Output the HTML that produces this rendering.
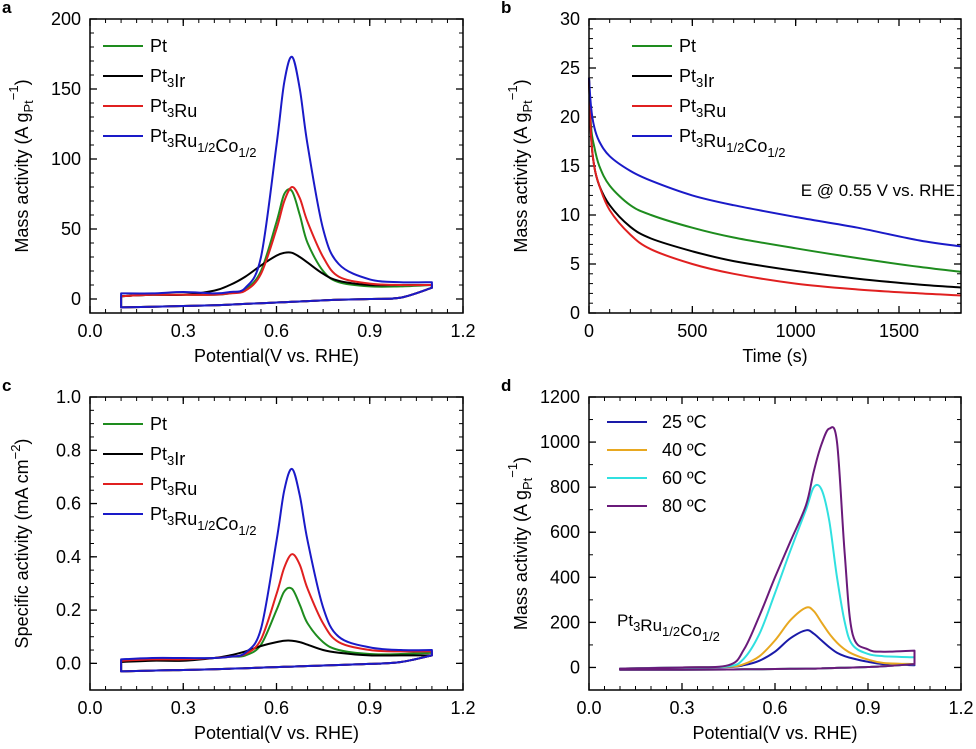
<!DOCTYPE html>
<html><head><meta charset="utf-8"><style>
body{margin:0;background:#fff;width:976px;height:744px;overflow:hidden}
svg{font-family:"Liberation Sans",sans-serif}
</style></head><body>
<svg id="fig" width="976" height="744" xmlns="http://www.w3.org/2000/svg"></svg>
<script>
// Panel a data
const cvPot = [0.1,0.2,0.3,0.4,0.45,0.5,0.55,0.6,0.625,0.65,0.675,0.7,0.75,0.8,0.9,1.0,1.1];
const aPt   = [2,3,3,3,4,7,20,55,75,77,60,40,20,12,9,9,10];
const aIr   = [2,3,3,6,10,16,24,31,33,33,30,26,18,13,10,10,10];
const aRu   = [2,3,3,3,4,6,18,50,70,80,72,55,30,16,11,10,10];
const aCo   = [4,4,5,4,5,8,30,110,155,173,150,110,50,25,14,12,12];
const aLow  = [-6,-5.5,-5,-4.5,-4,-3.5,-3,-2.5,-2.3,-2,-1.8,-1.5,-1,-0.5,0,1,8];
// Panel c data
const cPt   = [0.01,0.015,0.015,0.02,0.025,0.03,0.07,0.2,0.27,0.28,0.22,0.15,0.08,0.05,0.035,0.035,0.04];
const cIr   = [0.005,0.01,0.01,0.02,0.03,0.045,0.065,0.08,0.085,0.085,0.08,0.07,0.05,0.04,0.03,0.03,0.03];
const cRu   = [0.01,0.015,0.015,0.02,0.025,0.035,0.09,0.26,0.36,0.41,0.37,0.28,0.15,0.08,0.05,0.045,0.045];
const cCo   = [0.015,0.02,0.02,0.02,0.025,0.04,0.13,0.46,0.65,0.73,0.63,0.46,0.21,0.1,0.06,0.05,0.05];
const cLow  = [-0.03,-0.027,-0.025,-0.022,-0.02,-0.018,-0.016,-0.014,-0.013,-0.012,-0.011,-0.01,-0.008,-0.006,-0.002,0.005,0.03];
// Panel b data
const bTime = [0,10,25,50,100,200,300,500,700,1000,1300,1600,1800];
const bPt   = [24,19,17,15,13,11,10,8.7,7.7,6.6,5.6,4.7,4.2];
const bIr   = [24,18,15,13,11,8.8,7.6,6.3,5.3,4.3,3.5,2.9,2.6];
const bRu   = [24,18,15,13,10.5,8,6.5,5,4,3,2.4,2,1.8];
const bCo   = [24,21,19,17.5,16,14.5,13.5,12,11,9.8,8.7,7.4,6.8];
// Panel d data
const dPot  = [0.1,0.3,0.45,0.5,0.55,0.6,0.65,0.7,0.725,0.75,0.775,0.8,0.825,0.85,0.9,0.95,1.05];
const d25   = [-5,0,2,10,30,70,130,165,150,120,90,65,50,40,25,15,10];
const d40   = [-5,0,3,15,50,120,210,265,250,200,150,110,80,60,35,20,15];
const d60   = [-5,0,5,40,150,330,520,700,800,790,650,400,200,100,60,50,45];
const d80   = [-5,0,10,80,230,400,560,720,870,990,1060,1000,500,150,80,70,75];
const dLow  = [-10,-10,-9,-8,-8,-7,-6,-5,-5,-4,-3,-2,-1,0,2,5,15];
const potTicks = [0.0,0.3,0.6,0.9,1.2];

const NS="http://www.w3.org/2000/svg";
const svg=document.getElementById('fig');
function mk(tag,attrs,parent){const e=document.createElementNS(NS,tag);for(const k in attrs)e.setAttribute(k,attrs[k]);(parent||svg).appendChild(e);return e;}
function smooth(pts,start){
  let d=(start?'M':'L')+pts[0][0].toFixed(1)+','+pts[0][1].toFixed(1);
  for(let i=0;i<pts.length-1;i++){
    const p0=pts[Math.max(0,i-1)],p1=pts[i],p2=pts[i+1],p3=pts[Math.min(pts.length-1,i+2)];
    const c1=[p1[0]+(p2[0]-p0[0])/6,p1[1]+(p2[1]-p0[1])/6];
    const c2=[p2[0]-(p3[0]-p1[0])/6,p2[1]-(p3[1]-p1[1])/6];
    d+=`C${c1[0].toFixed(1)},${c1[1].toFixed(1)} ${c2[0].toFixed(1)},${c2[1].toFixed(1)} ${p2[0].toFixed(1)},${p2[1].toFixed(1)}`;
  }
  return d;
}

function panel(o){
  const g=mk('g',{});
  
  
  const sx=v=>o.x0+(v-o.xmin)/(o.xmax-o.xmin)*(o.x1-o.x0);
  const sy=v=>o.y1-(v-o.ymin)/(o.ymax-o.ymin)*(o.y1-o.y0);
  o.xt.forEach(v=>{
    const x=sx(v);
    mk('line',{x1:x,x2:x,y1:o.y1,y2:o.y1-7,stroke:'#000','stroke-width':1.3},g);
    mk('line',{x1:x,x2:x,y1:o.y0,y2:o.y0+7,stroke:'#000','stroke-width':1.3},g);
    const t=mk('text',{x:x,y:o.y1+24,'font-size':18,'text-anchor':'middle'},g);t.textContent=o.xf(v);
    
  });
  for(let v=o.xmin;v<=o.xmax+1e-9;v+=o.xminor){const x=sx(v);
    mk('line',{x1:x,x2:x,y1:o.y1,y2:o.y1-4,stroke:'#000','stroke-width':1},g);
    mk('line',{x1:x,x2:x,y1:o.y0,y2:o.y0+4,stroke:'#000','stroke-width':1},g);}
  o.yt.forEach(v=>{
    const y=sy(v);
    mk('line',{x1:o.x0,x2:o.x0+7,y1:y,y2:y,stroke:'#000','stroke-width':1.3},g);
    mk('line',{x1:o.x1,x2:o.x1-7,y1:y,y2:y,stroke:'#000','stroke-width':1.3},g);
    const t=mk('text',{x:o.x0-9,y:y+6,'font-size':18,'text-anchor':'end'},g);t.textContent=o.yf(v);
    
  });
  for(let v=o.yt[0];v<=o.ymax+1e-9;v+=o.yminor){const y=sy(v);if(y>o.y1)continue;
    mk('line',{x1:o.x0,x2:o.x0+4,y1:y,y2:y,stroke:'#000','stroke-width':1},g);
    mk('line',{x1:o.x1,x2:o.x1-4,y1:y,y2:y,stroke:'#000','stroke-width':1},g);}
  o.series.forEach(s=>{
    const up=s.up.map((v,i)=>[sx(s.xs[i]),sy(v)]);
    let d=smooth(up,true);
    if(s.low){const lo=s.low.map((v,i)=>[sx(s.xs[i]),sy(v)]).reverse();d+=smooth(lo,false)+'Z';}
    const p=mk('path',{d:d,fill:'none',stroke:s.c,'stroke-width':2,'stroke-linejoin':'round'},g);
    
  });
  mk('rect',{x:o.x0,y:o.y0,width:o.x1-o.x0,height:o.y1-o.y0,fill:'none',stroke:'#000','stroke-width':1.5},g);
  o.series.forEach((s,i)=>{
    const ly=o.ly+i*o.lgap;
    const l=mk('line',{x1:o.lx,x2:o.lx+40,y1:ly,y2:ly,stroke:s.c,'stroke-width':2},g);
    
    const t=mk('text',{x:o.lx+(o.ltx||47),y:ly+6,'font-size':18},g);t.innerHTML=s.label;
    
  });
  const xl=mk('text',{x:(o.x0+o.x1)/2,y:o.y1+49,'font-size':18,'text-anchor':'middle'},g);xl.textContent=o.xlabel;
  
  const yl=mk('text',{transform:`translate(${o.x0-62},${(o.y0+o.y1)/2}) rotate(-90)`,'font-size':18,'text-anchor':'middle'},g);yl.innerHTML=o.ylabel;
  
  const pl=mk('text',{x:o.x0-88,y:o.y0-6,'font-size':17,'font-weight':'bold'},g);pl.textContent=o.letter;
  
  return {g,sx,sy};
}
const sub=(t)=>`<tspan dy="5" font-size="13">${t}</tspan><tspan dy="-5"></tspan>`;
const L={Pt:'Pt',Ir:'Pt'+sub('3')+'Ir',Ru:'Pt'+sub('3')+'Ru',Co:'Pt'+sub('3')+'Ru'+sub('1/2')+'Co'+sub('1/2')};
const massLbl='Mass activity (A g<tspan dy="5" font-size="13">Pt</tspan><tspan dy="-15" font-size="13">−1</tspan><tspan dy="10">)</tspan>';
const f1=v=>v.toFixed(1);
const fi=v=>String(v);

panel({name:'panel-a',letter:'a',x0:90,x1:463,y0:19,y1:313,xmin:0,xmax:1.2,ymin:-10,ymax:200,
  xt:potTicks,xminor:0.05,yt:[0,50,100,150,200],yminor:10,xf:f1,yf:fi,lx:103,ly:46,lgap:30,
  xlabel:'Potential(V vs. RHE)',ylabel:massLbl,
  series:[{id:'series-pt',c:'#1e8c1e',label:L.Pt,xs:cvPot,up:aPt,low:aLow},
    {id:'series-pt3ir',c:'#000',label:L.Ir,xs:cvPot,up:aIr,low:aLow},
    {id:'series-pt3ru',c:'#e02020',label:L.Ru,xs:cvPot,up:aRu,low:aLow},
    {id:'series-pt3ruco',c:'#1a1ac8',label:L.Co,xs:cvPot,up:aCo,low:aLow}]});
const pb=panel({name:'panel-b',letter:'b',x0:589,x1:961,y0:19,y1:313,xmin:0,xmax:1800,ymin:0,ymax:30,
  xt:[0,500,1000,1500],xminor:100,yt:[0,5,10,15,20,25,30],yminor:1,xf:fi,yf:fi,lx:632,ly:46,lgap:30,
  xlabel:'Time (s)',ylabel:massLbl,
  series:[{id:'series-pt',c:'#1e8c1e',label:L.Pt,xs:bTime,up:bPt},
    {id:'series-pt3ir',c:'#000',label:L.Ir,xs:bTime,up:bIr},
    {id:'series-pt3ru',c:'#e02020',label:L.Ru,xs:bTime,up:bRu},
    {id:'series-pt3ruco',c:'#1a1ac8',label:L.Co,xs:bTime,up:bCo}]});
const an=mk('text',{x:955,y:196,'font-size':17,'text-anchor':'end'},pb.g);an.textContent='E @ 0.55 V vs. RHE';

panel({name:'panel-c',letter:'c',x0:90,x1:463,y0:397,y1:690,xmin:0,xmax:1.2,ymin:-0.1,ymax:1.0,
  xt:potTicks,xminor:0.05,yt:[0,0.2,0.4,0.6,0.8,1.0],yminor:0.05,xf:f1,yf:f1,lx:103,ly:424,lgap:30,
  xlabel:'Potential(V vs. RHE)',ylabel:'Specific activity (mA cm<tspan dy="-8" font-size="13">−2</tspan><tspan dy="8">)</tspan>',
  series:[{id:'series-pt',c:'#1e8c1e',label:L.Pt,xs:cvPot,up:cPt,low:cLow},
    {id:'series-pt3ir',c:'#000',label:L.Ir,xs:cvPot,up:cIr,low:cLow},
    {id:'series-pt3ru',c:'#e02020',label:L.Ru,xs:cvPot,up:cRu,low:cLow},
    {id:'series-pt3ruco',c:'#1a1ac8',label:L.Co,xs:cvPot,up:cCo,low:cLow}]});
const pd=panel({name:'panel-d',letter:'d',x0:589,x1:961,y0:397,y1:690,xmin:0,xmax:1.2,ymin:-100,ymax:1200,
  xt:potTicks,xminor:0.05,yt:[0,200,400,600,800,1000,1200],yminor:100,xf:f1,yf:fi,lx:607,ly:422,lgap:28,ltx:55,
  xlabel:'Potential(V vs. RHE)',ylabel:massLbl,
  series:[{id:'series-25c',c:'#1a1aa8',label:'25 ºC',xs:dPot,up:d25,low:dLow},
    {id:'series-40c',c:'#e8a820',label:'40 ºC',xs:dPot,up:d40,low:dLow},
    {id:'series-60c',c:'#30e0e0',label:'60 ºC',xs:dPot,up:d60,low:dLow},
    {id:'series-80c',c:'#6a1a7a',label:'80 ºC',xs:dPot,up:d80,low:dLow}]});
const dn=mk('text',{x:617,y:626,'font-size':17},pd.g);dn.innerHTML=L.Co;

</script>
</body></html>
